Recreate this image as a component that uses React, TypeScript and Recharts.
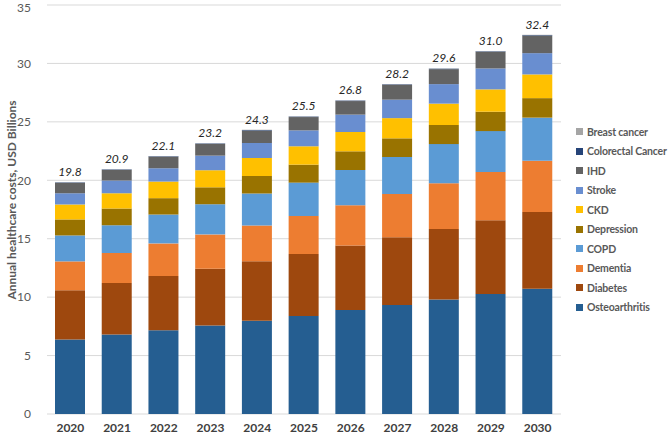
import React from 'react';
import { BarChart, Bar, XAxis, YAxis, CartesianGrid, LabelList } from 'recharts';

const years = ['2020', '2021', '2022', '2023', '2024', '2025', '2026', '2027', '2028', '2029', '2030'];
const osteoarthritis = [6.38, 6.8, 7.17, 7.57, 7.97, 8.38, 8.89, 9.32, 9.8, 10.26, 10.71];
const diabetes = [4.21, 4.41, 4.64, 4.87, 5.11, 5.32, 5.53, 5.81, 6.04, 6.32, 6.58];
const dementia = [2.47, 2.56, 2.79, 2.93, 3.05, 3.25, 3.44, 3.7, 3.9, 4.13, 4.39];
const copd = [2.22, 2.39, 2.47, 2.58, 2.73, 2.85, 3.02, 3.16, 3.36, 3.5, 3.68];
const depression = [1.37, 1.43, 1.4, 1.45, 1.51, 1.54, 1.6, 1.6, 1.63, 1.66, 1.67];
const ckd = [1.28, 1.3, 1.42, 1.46, 1.54, 1.57, 1.65, 1.73, 1.83, 1.91, 2.03];
const stroke = [0.96, 1.09, 1.14, 1.25, 1.28, 1.36, 1.49, 1.58, 1.67, 1.79, 1.82];
const ihd = [0.89, 0.91, 0.99, 1.0, 1.08, 1.14, 1.16, 1.28, 1.28, 1.43, 1.51];
const colorectal = [0.04, 0.04, 0.04, 0.04, 0.04, 0.04, 0.04, 0.04, 0.04, 0.04, 0.04];
const breast = [0.02, 0.02, 0.02, 0.02, 0.02, 0.02, 0.02, 0.02, 0.02, 0.02, 0.02];
const totals = [19.8, 20.9, 22.1, 23.2, 24.3, 25.5, 26.8, 28.2, 29.6, 31.0, 32.4];
const yTicks = [0, 5, 10, 15, 20, 25, 30, 35];

const series = [
  { key: 'Osteoarthritis', values: osteoarthritis, color: '#255E91' },
  { key: 'Diabetes', values: diabetes, color: '#9E480E' },
  { key: 'Dementia', values: dementia, color: '#ED7D31' },
  { key: 'COPD', values: copd, color: '#5B9BD5' },
  { key: 'Depression', values: depression, color: '#997300' },
  { key: 'CKD', values: ckd, color: '#FFC000' },
  { key: 'Stroke', values: stroke, color: '#698ED0' },
  { key: 'IHD', values: ihd, color: '#636363' },
  { key: 'Colorectal Cancer', values: colorectal, color: '#264478' },
  { key: 'Breast cancer', values: breast, color: '#A5A5A5' },
];

const data = years.map((y, i) => {
  const row: any = { year: y, total: totals[i] };
  series.forEach((s) => {
    row[s.key] = s.values[i];
  });
  return row;
});

const FONT = 'Lato, "Open Sans", sans-serif';

export default function App() {
  return (
    <div style={{ position: 'absolute', left: 0, top: 0, width: 669, height: 436, background: '#fff', fontFamily: FONT }}>
      <BarChart
        width={669}
        height={436}
        data={data}
        margin={{ top: 5, right: 108, bottom: 2, left: 0 }}
        barSize={30}
      >
        <CartesianGrid vertical={false} stroke="#D9D9D9" />
        <XAxis
          dataKey="year"
          axisLine={false}
          tickLine={false}
          height={20}
          tick={{ fill: '#404040', fontSize: 12, fontWeight: 700, fontFamily: FONT }}
          tickMargin={3}
        />
        <YAxis
          domain={[0, 35]}
          ticks={yTicks}
          axisLine={false}
          tickLine={false}
          width={47}
          tickMargin={10}
          tick={{ fill: '#595959', fontSize: 12, fontFamily: FONT }}
        />
        {series.map((s, idx) => (
          <Bar key={s.key} dataKey={s.key} stackId="a" fill={s.color} isAnimationActive={false}>
            {idx === series.length - 1 ? (
              <LabelList
                dataKey="total"
                position="top"
                offset={6}
                formatter={(v: any) => Number(v).toFixed(1)}
                style={{ fill: '#262626', fontSize: 12, fontStyle: 'italic', fontFamily: FONT }}
              />
            ) : null}
          </Bar>
        ))}
      </BarChart>
      <div
        style={{
          position: 'absolute',
          left: 11,
          top: 200,
          transform: 'translate(-50%, -50%) rotate(-90deg)',
          whiteSpace: 'nowrap',
          fontSize: 12,
          fontWeight: 700,
          color: '#595959',
        }}
      >
        Annual healthcare costs, USD Billions
      </div>
      <div style={{ position: 'absolute', left: 576, top: 122 }}>
        {series
          .slice()
          .reverse()
          .map((s) => (
            <div key={s.key} style={{ display: 'flex', alignItems: 'center', height: 19.5 }}>
              <div style={{ width: 7, height: 7, background: s.color, marginRight: 4 }} />
              <span style={{ fontSize: 10.5, fontWeight: 700, color: '#595959', whiteSpace: 'nowrap', letterSpacing: -0.2 }}>
                {s.key}
              </span>
            </div>
          ))}
      </div>
    </div>
  );
}
